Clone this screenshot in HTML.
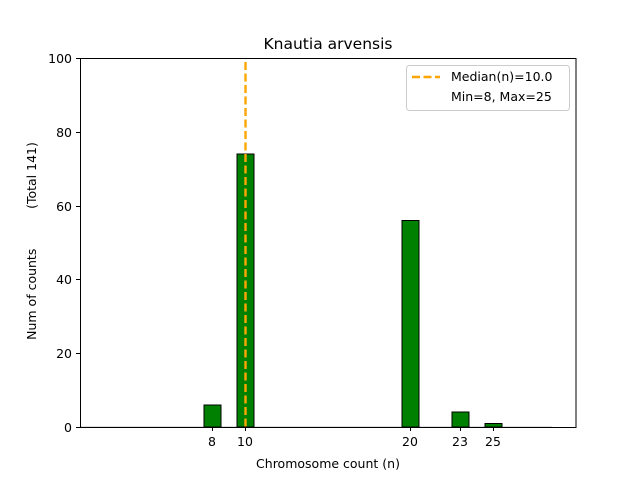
<!DOCTYPE html><html><head><style>body{margin:0;background:#fff}svg{font-family:"DejaVu Sans","Liberation Sans",sans-serif}</style></head><body>
<svg width="640" height="480" xmlns="http://www.w3.org/2000/svg">
<rect width="640" height="480" fill="#fff"/>
<line x1="80" y1="427" x2="552" y2="427" stroke="#bbb" stroke-width="1"/>
<g fill="#008000" stroke="#000" stroke-width="1">
<rect x="204" y="405" width="17" height="22"/>
<rect x="237" y="154" width="17" height="273"/>
<rect x="402" y="220.5" width="17" height="206.5"/>
<rect x="452" y="412" width="17" height="15"/>
<rect x="485" y="423.5" width="17" height="3.5"/>
</g>
<line x1="245.5" y1="62" x2="245.5" y2="427" stroke="#ffa500" stroke-width="2.4" stroke-dasharray="8,3.5"/>
<rect x="80.5" y="58.5" width="495.5" height="369" fill="none" stroke="#000" stroke-width="1"/>
<g stroke="#000">
<line x1="212.5" y1="427" x2="212.5" y2="431"/><line x1="245.5" y1="427" x2="245.5" y2="431"/><line x1="410.5" y1="427" x2="410.5" y2="431"/><line x1="460.5" y1="427" x2="460.5" y2="431"/><line x1="493.5" y1="427" x2="493.5" y2="431"/>
<line x1="76" y1="427.5" x2="80" y2="427.5"/><line x1="76" y1="353.5" x2="80" y2="353.5"/><line x1="76" y1="279.5" x2="80" y2="279.5"/><line x1="76" y1="206.5" x2="80" y2="206.5"/><line x1="76" y1="132.5" x2="80" y2="132.5"/><line x1="76" y1="58.5" x2="80" y2="58.5"/>
</g>
<g font-size="12.5" text-anchor="middle">
<text x="212" y="446">8</text><text x="245" y="446">10</text><text x="410" y="446">20</text><text x="460" y="446">23</text><text x="493" y="446">25</text>
<text x="328" y="468">Chromosome count (n)</text>
</g>
<g font-size="12.5" text-anchor="end">
<text x="72" y="432">0</text><text x="72" y="358">20</text><text x="72" y="284">40</text><text x="72" y="211">60</text><text x="72" y="137">80</text><text x="72" y="63">100</text>
</g>
<text transform="translate(36,241) rotate(-90)" font-size="12.5" text-anchor="middle" style="white-space:pre">Num of counts          (Total 141)</text>
<text x="328" y="49" font-size="15.5" text-anchor="middle">Knautia arvensis</text>
<rect x="406.5" y="65.5" width="163" height="45" rx="3" fill="#fff" stroke="#ccc"/>
<line x1="412" y1="77" x2="440" y2="77" stroke="#ffa500" stroke-width="2.4" stroke-dasharray="8,3.5"/>
<text x="451" y="81" font-size="12.5">Median(n)=10.0</text>
<text x="451" y="101" font-size="12.5">Min=8, Max=25</text>
</svg></body></html>
